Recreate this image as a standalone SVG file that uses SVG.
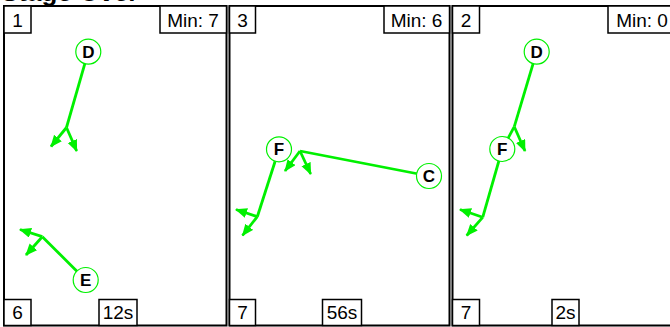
<svg xmlns="http://www.w3.org/2000/svg" width="670" height="327" viewBox="0 0 670 327">
<style>
.title{font-family:"Liberation Sans",Arial,sans-serif;font-weight:bold;font-size:26px;fill:#000}
.panel{fill:#fff;stroke:#000;stroke-width:2}
.box{fill:#fff;stroke:#000;stroke-width:1.5}
.bt{font-family:"Liberation Sans",Arial,sans-serif;font-size:19px;fill:#000;text-anchor:middle}
.node circle{fill:#fff;stroke:#00f000;stroke-width:1.2}
.node text{font-family:"Liberation Sans",Arial,sans-serif;font-weight:bold;font-size:17px;fill:#000;text-anchor:middle}
.e{stroke:#00f000;stroke-width:2.8;fill:none}
.a{stroke:#00f000;stroke-width:2.8;fill:none;marker-end:url(#ah)}
</style>
<defs>
<marker id="ah" markerUnits="userSpaceOnUse" markerWidth="13" markerHeight="11" refX="11" refY="5" orient="auto">
<path d="M0,0 L12,5 L0,10 z" fill="#00f000"/>
</marker>
</defs>
<text class="title" x="1" y="1">Stage Over</text>

<g id="panel1">
<rect class="panel" x="4" y="6" width="222.5" height="319.5"/>
<rect class="box" x="4" y="6" width="27" height="27"/><text class="bt" x="17.5" y="26.5">1</text>
<rect class="box" x="160" y="6" width="66.5" height="27"/><text class="bt" x="193" y="26.5">Min: 7</text>
<rect class="box" x="4" y="299.5" width="27" height="26"/><text class="bt" x="17.5" y="318.5">6</text>
<rect class="box" x="99" y="299.5" width="38" height="26"/><text class="bt" x="118" y="318.5">12s</text>
</g>
<g id="panel2">
<rect class="panel" x="229.5" y="6" width="220" height="319.5"/>
<rect class="box" x="229.5" y="6" width="26" height="27"/><text class="bt" x="242.5" y="26.5">3</text>
<rect class="box" x="384" y="6" width="65.5" height="27"/><text class="bt" x="416.5" y="26.5">Min: 6</text>
<rect class="box" x="229.5" y="299.5" width="26" height="26"/><text class="bt" x="242.5" y="318.5">7</text>
<rect class="box" x="322.5" y="299.5" width="39" height="26"/><text class="bt" x="342" y="318.5">56s</text>
</g>
<g id="panel3">
<rect class="panel" x="452.5" y="6" width="225" height="319.5"/>
<rect class="box" x="452.5" y="6" width="27" height="27"/><text class="bt" x="466" y="26.5">2</text>
<rect class="box" x="608" y="6" width="70" height="27"/><text class="bt" x="642" y="26.5">Min: 0</text>
<rect class="box" x="452.5" y="299.5" width="27" height="26"/><text class="bt" x="466" y="318.5">7</text>
<rect class="box" x="552" y="299.5" width="27" height="26"/><text class="bt" x="565.5" y="318.5">2s</text>
</g>

<g id="connectors">
<line class="e" x1="88.3" y1="51.7" x2="66.5" y2="127.5"/>
<line class="a" x1="66.5" y1="127.5" x2="51" y2="146.5"/>
<line class="a" x1="66.5" y1="127.5" x2="76.7" y2="151"/>
<line class="e" x1="85.7" y1="280" x2="42.3" y2="236.7"/>
<line class="a" x1="42.3" y1="236.7" x2="20" y2="229.5"/>
<line class="a" x1="42.3" y1="236.7" x2="26" y2="255"/>
<line class="e" x1="279" y1="149.3" x2="257.3" y2="216.7"/>
<line class="a" x1="257.3" y1="216.7" x2="236" y2="209.5"/>
<line class="a" x1="257.3" y1="216.7" x2="242.5" y2="235.5"/>
<line class="e" x1="429" y1="176" x2="300" y2="151"/>
<line class="a" x1="300" y1="151" x2="285" y2="171"/>
<line class="a" x1="300" y1="151" x2="310.7" y2="174"/>
<line class="e" x1="536.7" y1="51.7" x2="514.3" y2="126.7"/>
<line class="a" x1="514.3" y1="126.7" x2="502.3" y2="149"/>
<line class="a" x1="514.3" y1="126.7" x2="525" y2="151"/>
<line class="e" x1="502.3" y1="149" x2="482.7" y2="217.3"/>
<line class="a" x1="482.7" y1="217.3" x2="460" y2="209.5"/>
<line class="a" x1="482.7" y1="217.3" x2="466.7" y2="235.5"/>
</g>

<g id="p1-D" class="node"><circle cx="88.3" cy="51.7" r="12.5"/><text x="88.3" y="57.8">D</text></g>
<g id="p1-E" class="node"><circle cx="85.7" cy="280" r="12.5"/><text x="85.7" y="286.1">E</text></g>
<g id="p2-F" class="node"><circle cx="279" cy="149.3" r="12.5"/><text x="279" y="155.4">F</text></g>
<g id="p2-C" class="node"><circle cx="429" cy="176" r="12.5"/><text x="429" y="182.1">C</text></g>
<g id="p3-D" class="node"><circle cx="536.7" cy="51.7" r="12.5"/><text x="536.7" y="57.8">D</text></g>
<g id="p3-F" class="node"><circle cx="502.3" cy="149" r="12.5"/><text x="502.3" y="155.1">F</text></g>
</svg>
